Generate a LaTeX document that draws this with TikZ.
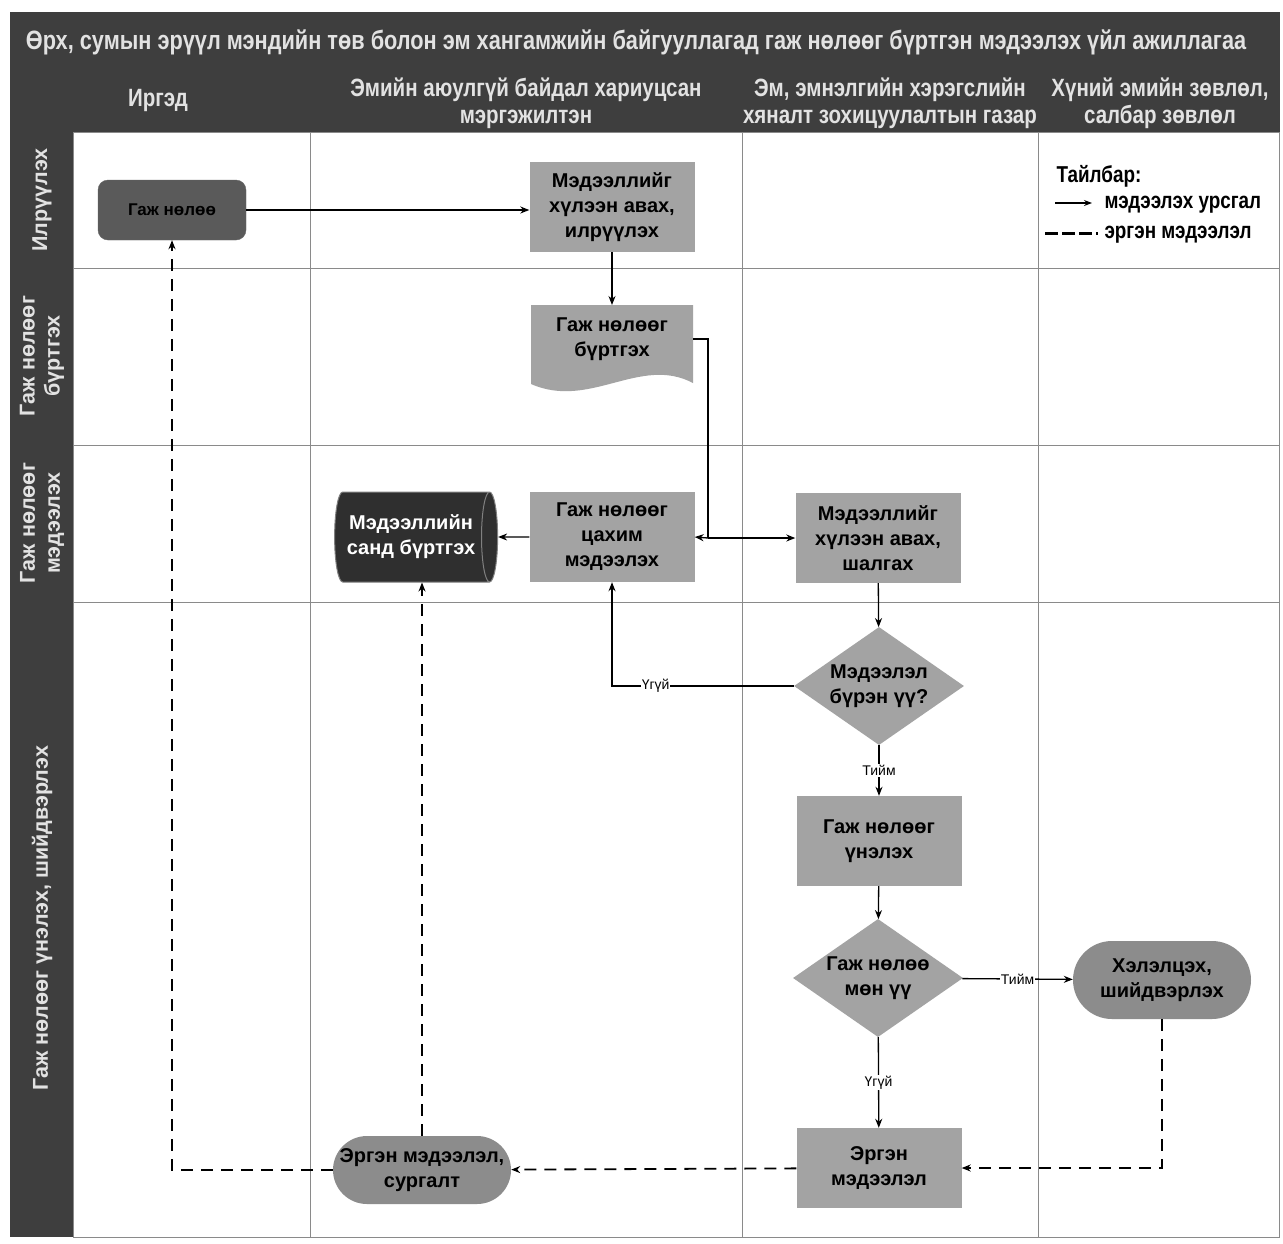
\documentclass[tikz,border=0pt]{standalone}
\usepackage{fontspec}
\setmainfont{Liberation Sans}
\newfontfamily\narrowfont[FakeStretch=0.82]{Liberation Sans}
\usepackage{tikz}
\usetikzlibrary{shapes.geometric,arrows.meta}

\definecolor{bandgray}{HTML}{3E3E3E}
\definecolor{headtext}{HTML}{E2E2E2}
\definecolor{gridgray}{HTML}{8A8A8A}
\definecolor{boxgray}{HTML}{A3A3A3}
\definecolor{darkbox}{HTML}{5A5A5A}
\definecolor{dbgray}{HTML}{2F2F2F}
\definecolor{pillgray}{HTML}{8C8C8C}

\tikzset{
  headline/.style={text=headtext, font=\narrowfont\bfseries\fontsize{25}{27}\selectfont, align=center},
  lanelabel/.style={text=headtext, font=\bfseries\fontsize{21.5}{25}\selectfont, align=center, rotate=90},
  keytext/.style={anchor=west, font=\narrowfont\bfseries\fontsize{23}{25}\selectfont},
  procbox/.style={rectangle, fill=boxgray, minimum width=165pt, minimum height=90pt, align=center, inner sep=2pt, font=\bfseries\fontsize{20}{25}\selectfont},
  decision/.style={diamond, fill=boxgray, minimum width=170pt, minimum height=118pt, aspect=1.45, inner sep=0pt, align=center, font=\bfseries\fontsize{20}{25}\selectfont},
  pill/.style={rectangle, rounded corners=39pt, fill=pillgray, minimum width=178pt, minimum height=78pt, align=center, inner sep=2pt, font=\bfseries\fontsize{20}{25}\selectfont},
  flow/.style={line width=1.3pt, -{Stealth[length=9pt,width=7pt]}},
  feedback/.style={line width=1.8pt, dash pattern=on 12pt off 8pt, -{Stealth[length=9pt,width=7pt]}},
  yesno/.style={fill=white, inner sep=1pt, font=\fontsize{14}{16}\selectfont}
}

\begin{document}
\begin{tikzpicture}[x=1pt,y=-1pt]
\useasboundingbox (0,0) rectangle (1283,1243);
% frame and lanes
\fill[bandgray] (10,12) rectangle (1280,1237);
\fill[white] (73,132) rectangle (1279,1237);
\draw[gridgray, line width=1pt] (73,132) rectangle (1279,1237);
\foreach \x in {310,742,1038}
  \draw[gridgray, line width=1pt] (\x,132) -- (\x,1237);
\foreach \y in {268,445,602}
  \draw[gridgray, line width=1pt] (73,\y) -- (1279,\y);

% titles
\node[headline, font=\narrowfont\bfseries\fontsize{26.5}{28}\selectfont] (title) at (636,42) {Өрх, сумын эрүүл мэндийн төв болон эм хангамжийн байгууллагад гаж нөлөөг бүртгэн мэдээлэх үйл ажиллагаа};
\node[headline] (colA) at (158,100) {Иргэд};
\node[headline] (colB) at (526,103) {Эмийн аюулгүй байдал хариуцсан\\мэргэжилтэн};
\node[headline] (colC) at (890,103) {Эм, эмнэлгийн хэрэгслийн\\хяналт зохицуулалтын газар};
\node[headline] (colD) at (1160,103) {Хүний эмийн зөвлөл,\\салбар зөвлөл};

\node[lanelabel] (rowA) at (42,200) {Илрүүлэх};
\node[lanelabel] (rowB) at (42,356) {Гаж нөлөөг\\бүртгэх};
\node[lanelabel] (rowC) at (42,523) {Гаж нөлөөг\\мэдээлэх};
\node[lanelabel] (rowD) at (42,918) {Гаж нөлөөг үнэлэх, шийдвэрлэх};

% legend
\node[keytext] (legend) at (1053,176) {Тайлбар:};
\coordinate (keyA) at (1055,203);
\coordinate (keyB) at (1092,203);
\coordinate (keyC) at (1045,233);
\coordinate (keyD) at (1098,233);
\draw[line width=1.3pt, -{Stealth[length=8pt,width=6pt]}] (keyA) -- (keyB);
\draw[line width=3pt, dash pattern=on 13pt off 4pt] (keyC) -- (keyD);
\node[keytext] (keyflow) at (1101,205) {мэдээлэх урсгал};
\node[keytext] (keyback) at (1101,235) {эргэн мэдээлэл};

% steps
\node[rectangle, rounded corners=10pt, fill=darkbox, draw=black!60, minimum width=148pt, minimum height=60pt, font=\bfseries\fontsize{17}{20}\selectfont] (gaj) at (172,210) {Гаж нөлөө};
\node[procbox] (ilruuleh) at (612,207) {Мэдээллийг\\хүлээн авах,\\илрүүлэх};
\fill[boxgray] (531,305) -- (693,305) -- (693,383) .. controls (640,355) and (590,410) .. (531,384) -- cycle;
\node[align=center, minimum width=162pt, font=\bfseries\fontsize{20}{25}\selectfont] (burtgeh) at (612,339) {Гаж нөлөөг\\бүртгэх};
\node[procbox] (tsahim) at (612,537) {Гаж нөлөөг\\цахим\\мэдээлэх};
\node[cylinder, aspect=0.35, cylinder uses custom fill, cylinder body fill=dbgray, cylinder end fill=dbgray, draw=gray, line width=1pt, minimum width=90pt, minimum height=163pt, text=white, align=center, inner sep=1pt, font=\bfseries\fontsize{20}{25}\selectfont] (db) at (411,537) {Мэдээллийн\\санд бүртгэх};
\node[procbox] (shalgah) at (878,538) {Мэдээллийг\\хүлээн авах,\\шалгах};
\node[decision] (burenuu) at (879,686) {Мэдээлэл\\бүрэн үү?};
\node[procbox] (unelh) at (879,841) {Гаж нөлөөг\\үнэлэх};
\node[decision] (monuu) at (878,978) {Гаж нөлөө\\мөн үү};
\node[pill] (heleltseh) at (1162,980) {Хэлэлцэх,\\шийдвэрлэх};
\node[procbox, minimum height=80pt] (ergen) at (879,1168) {Эргэн\\мэдээлэл};
\node[pill, minimum height=68pt, rounded corners=34pt] (surgalt) at (422,1170) {Эргэн мэдээлэл,\\сургалт};

% connectors
\coordinate (split) at (708,538);
\draw[flow] (gaj.east) -- (gaj.east -| ilruuleh.west);
\draw[flow] (ilruuleh) -- (burtgeh.north |- 0,305);
\draw[line width=1.3pt] (burtgeh.east) -| (split);
\draw[flow] (split) -- (tsahim.east);
\draw[flow] (split) -- (shalgah.west);
\draw[flow] (tsahim.west) -- (db.east);
\draw[flow] (shalgah) -- (burenuu);
\draw[flow] (burenuu.west) -| node[yesno, pos=0.38] {Үгүй} (tsahim.south);
\draw[flow] (burenuu) -- node[yesno] {Тийм} (unelh);
\draw[flow] (unelh) -- (monuu);
\draw[flow] (monuu) -- node[yesno] {Тийм} (heleltseh);
\draw[flow] (monuu) -- node[yesno] {Үгүй} (ergen);
\draw[feedback] (heleltseh.south) |- (ergen.east);
\draw[feedback] (ergen) -- (surgalt);
\draw[feedback] (surgalt.west) -| (gaj.south);
\draw[feedback] (surgalt.north) -- (surgalt.north |- db.south);
\end{tikzpicture}
\end{document}
